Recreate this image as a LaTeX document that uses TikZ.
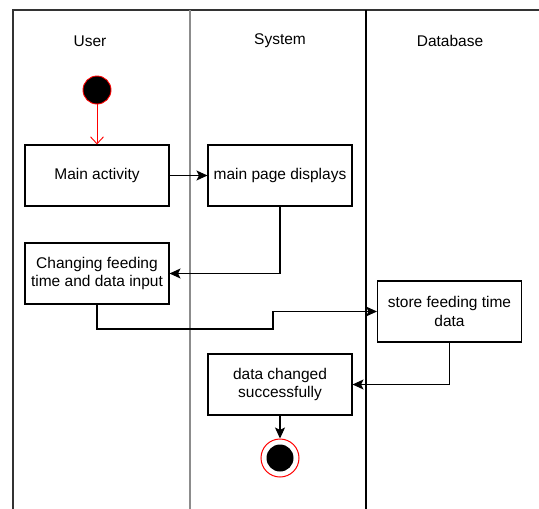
\documentclass[tikz,border=0pt]{standalone}
\usepackage{fontspec}
\setmainfont{Liberation Sans}
\usetikzlibrary{arrows.meta}
\tikzset{
  act/.style={draw,line width=1.1pt,minimum width=144pt,minimum height=61pt,align=center,inner sep=2pt},
  flow/.style={line width=1.1pt,-{Stealth[length=11pt,width=10pt,inset=2.5pt]}},
  swim/.style={line width=2pt}
}
\begin{document}
\begin{tikzpicture}[x=1pt,y=-1pt,font=\fontsize{15.5}{18.5}\selectfont]
\useasboundingbox (0,0) rectangle (539,509);
\begin{scope}
\clip (0,0) rectangle (539,509);
\draw[swim,draw=black!80] (13,10) rectangle (548,520);
\draw[swim,draw=black!45] (190,10) -- (190,520);
\draw[line width=1.5pt] (366,10) -- (366,520);
\end{scope}
\node (user) at (90,41) {User};
\node (system) at (280,41) {System};
\node (database) at (450,41) {Database};

\node [circle,draw=red,fill=black,line width=0.9pt,inner sep=0pt,minimum size=28pt] (start) at (97,90) {};
\node [act] (main) at (97,175.5) {Main activity};
\node [act] (page) at (280,175.5) {main page displays};
\node [act] (changing) at (97,273.5) {Changing feeding\\time and data input};
\node [act] (store) at (449.5,311.5) {store feeding time\\data};
\node [act] (changed) at (280,384.5) {data changed\\successfully};
\node [circle,draw=red,line width=1pt,inner sep=0pt,minimum size=38pt] (end) at (280,458) {};
\node [circle,fill=black,inner sep=0pt,minimum size=27pt] (enddot) at (end) {};

\draw [red,line width=0.9pt,-{Straight Barb[length=7pt,width=13pt]}] (start) -- (main);
\draw [flow] (main) -- (page);
\draw [flow] (page.south) |- (changing.east);
\draw [flow] (changing.south) |- (273,329) |- (store.west);
\draw [flow] (store.south) |- (changed.east);
\draw [flow] (changed) -- (end);
\end{tikzpicture}
\end{document}
